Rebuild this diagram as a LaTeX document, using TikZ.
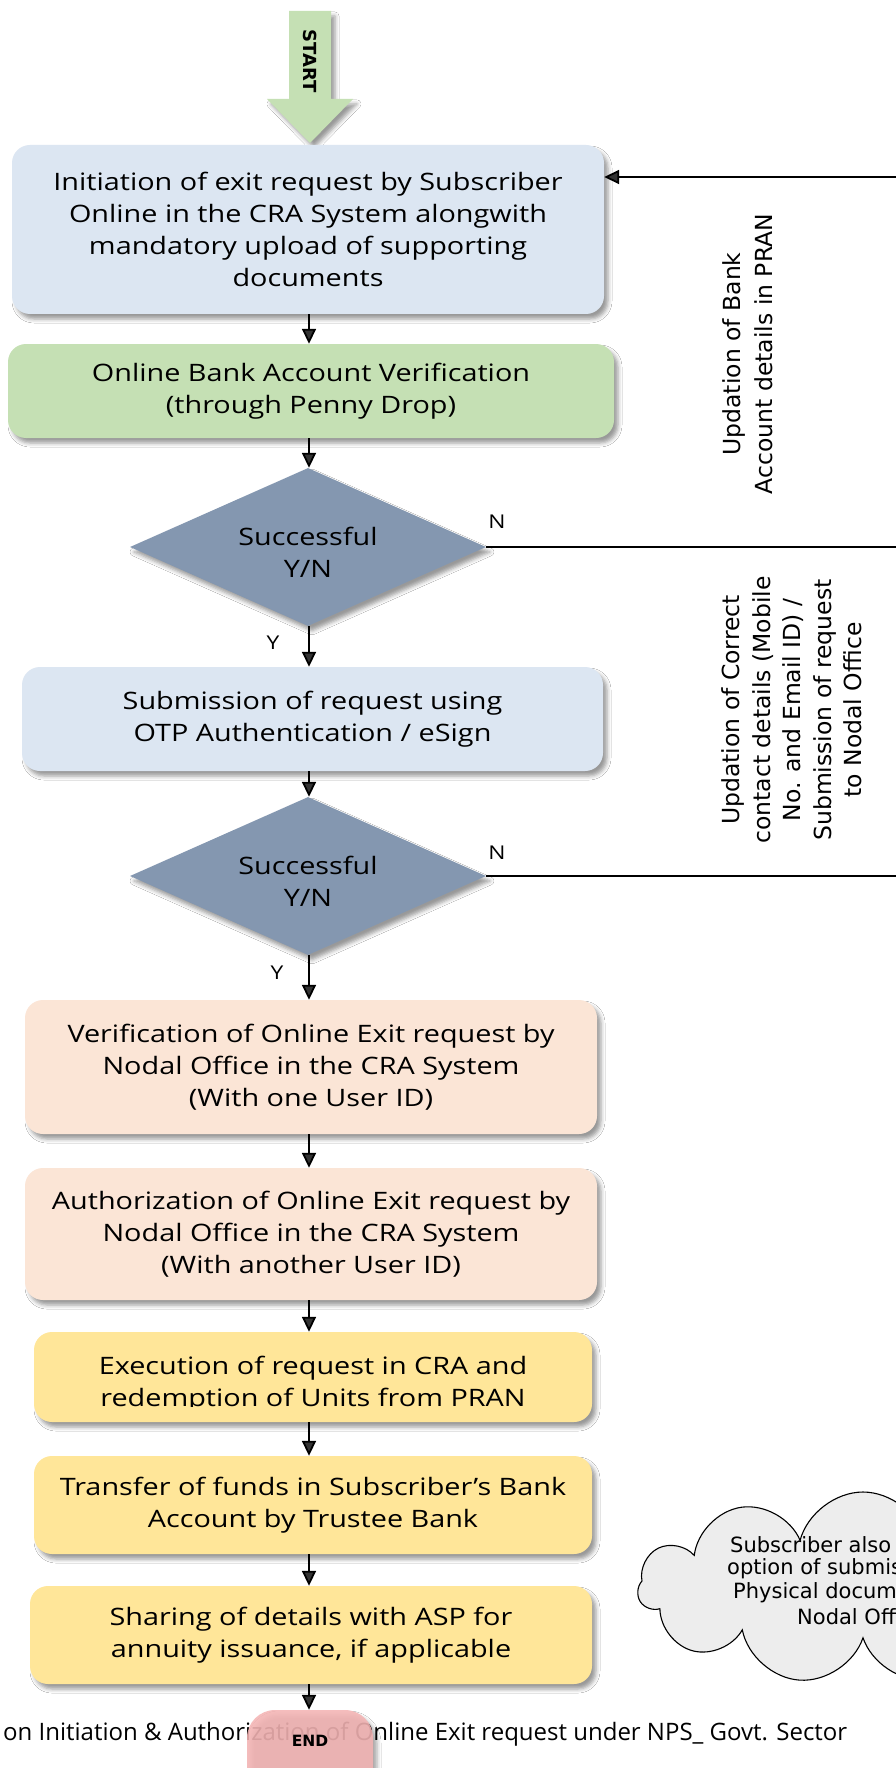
\documentclass[tikz,border=0pt]{standalone}
\usepackage{fontspec}
\newfontfamily\boxfont[FakeStretch=1.2]{Open Sans}
\newfontfamily\capfont{Open Sans}
\newfontfamily\vfont{DejaVu Sans}
\usetikzlibrary{shapes.geometric,shapes.symbols,arrows.meta,shadows.blur}
\definecolor{cBlue}{HTML}{DCE6F2}
\definecolor{cGreen}{HTML}{C5E0B4}
\definecolor{cDia}{HTML}{8497B0}
\definecolor{cPeach}{HTML}{FBE5D6}
\definecolor{cYellow}{HTML}{FFE699}
\definecolor{cPink}{HTML}{F4B4B4}
\definecolor{cCloud}{HTML}{EDEDED}
\begin{document}
\begin{tikzpicture}[x=1pt,y=-1pt,
  shad/.style={blur shadow={shadow xshift=4pt,shadow yshift=-5pt,shadow blur radius=4pt,shadow opacity=40}},
  boxtxt/.style={inner sep=0pt, align=center, font=\boxfont\fontsize{24}{32}\selectfont},
  box/.style={boxtxt, rounded corners=18pt, shad},
  dia/.style={diamond, aspect=2.25, inner sep=0pt, fill=cDia, shad,
    minimum width=356pt, minimum height=158pt},
  yn/.style={inner sep=0pt, font=\boxfont\fontsize{19}{22}\selectfont},
  side/.style={rotate=90, align=center, inner sep=0pt, font=\vfont\fontsize{23.5}{32}\selectfont},
  cloudtxt/.style={anchor=west, inner sep=0pt, font=\vfont\fontsize{21}{24}\selectfont},
  arr/.style={line width=1.8pt, -{Triangle[width=14pt,length=15pt]}},
  ln/.style={line width=1.8pt}
]
\clip (0,0) rectangle (896,1768);
\fill[white] (0,0) rectangle (896,1768);

% axis and right edge
\coordinate (ax) at (309,0);
\coordinate (edge) at (896,0);
\coordinate (fb) at (896,177);

% START arrow
\path[fill=cGreen, shad] (289,11) -- (331,11) -- (331,99) -- (353,99) -- (310,143)
  -- (267,99) -- (289,99) -- cycle;
\node[rotate=-90, inner sep=0pt, font=\vfont\bfseries\fontsize{18}{20}\selectfont] (start) at (310,61) {START};

% boxes
\node[box, fill=cBlue, minimum width=592pt, minimum height=169pt] (b1) at (308,229.5)
  {Initiation of exit request by Subscriber\\Online in the CRA System alongwith\\mandatory upload of supporting\\documents};
\node[box, fill=cGreen, minimum width=606pt, minimum height=94pt] (b2) at (311,391)
  {Online Bank Account Verification\\(through Penny Drop)};
\node[dia] (d1) at (308,547) {};
\node[boxtxt] (d1t) at (308,552) {Successful\\Y/N};
\node[box, fill=cBlue, minimum width=581pt, minimum height=104pt] (b3) at (312.5,719)
  {Submission of request using\\OTP Authentication / eSign};
\node[dia] (d2) at (308,876) {};
\node[boxtxt] (d2t) at (308,881) {Successful\\Y/N};
\node[box, fill=cPeach, minimum width=572pt, minimum height=134pt] (b4) at (311,1067)
  {Verification of Online Exit request by\\Nodal Office in the CRA System\\(With one User ID)};
\node[box, fill=cPeach, minimum width=572pt, minimum height=132pt] (b5) at (311,1234)
  {Authorization of Online Exit request by\\Nodal Office in the CRA System\\(With another User ID)};
\node[box, fill=cYellow, minimum width=558pt, minimum height=90pt] (b6) at (313,1377) {};
\begin{scope}
  \clip (0,1320) rectangle (896,1406);
  \node[boxtxt] (b6t) at (313,1384)
    {Execution of request in CRA and\\redemption of Units from PRAN};
\end{scope}
\node[box, fill=cYellow, minimum width=558pt, minimum height=98pt] (b7) at (313,1505)
  {Transfer of funds in Subscriber’s Bank\\Account by Trustee Bank};
\node[box, fill=cYellow, minimum width=562pt, minimum height=98pt] (b8) at (311,1635)
  {Sharing of details with ASP for\\annuity issuance, if applicable};

% caption text (under END)
\node[anchor=base west, inner sep=0pt, font=\capfont\fontsize{24}{28}\selectfont] (cap) at (3,1740)
  {on Initiation \& Authorization of Online Exit request under NPS\_ Govt. Sector};

% END
\node[rounded corners=28pt, fill=cPink, fill opacity=0.88, minimum width=126pt, minimum height=100pt,
  inner sep=0pt, shad] (endb) at (310,1760) {};
\node[inner sep=0pt, font=\vfont\bfseries\fontsize{15.5}{18}\selectfont] (endt) at (310,1741) {END};

% vertical arrows
\draw[arr] (b1.south -| ax) -- (b2.north -| ax);
\draw[arr] (b2.south -| ax) -- (d1.north -| ax);
\draw[arr] (d1.south -| ax) -- (b3.north -| ax);
\draw[arr] (b3.south -| ax) -- (d2.north -| ax);
\draw[arr] (d2.south -| ax) -- (b4.north -| ax);
\draw[arr] (b4.south -| ax) -- (b5.north -| ax);
\draw[arr] (b5.south -| ax) -- (b6.north -| ax);
\draw[arr] (b6.south -| ax) -- (b7.north -| ax);
\draw[arr] (b7.south -| ax) -- (b8.north -| ax);
\draw[arr] (b8.south -| ax) -- (endb.north -| ax);

% Y / N labels
\node[yn] (y1) at (273,643) {Y};
\node[yn] (y2) at (277,973) {Y};
\node[yn] (n1) at (497,522) {N};
\node[yn] (n2) at (497,853) {N};

% feedback lines
\draw[ln] (d1.east) -- (d1.east -| edge);
\draw[ln] (d2.east) -- (d2.east -| edge);
\draw[arr] (fb) -- (fb -| b1.east);

% side labels
\node[side] (lab1) at (748,354) {Updation of Bank\\Account details in PRAN};
\node[side, font=\vfont\fontsize{23.5}{30.5}\selectfont] (lab2) at (792,710)
  {Updation of Correct\\contact details (Mobile\\No. and Email ID) /\\Submission of request\\to Nodal Office};

% cloud
\node[cloud, cloud puffs=11, cloud ignores aspect, draw=black, line width=1.1pt, fill=cCloud,
  minimum width=450pt, minimum height=192pt, inner sep=0pt] (cl) at (863,1588) {};
\node[cloudtxt] (c1) at (730,1545) {Subscriber also};
\node[cloudtxt] (c2) at (727,1569) {option of submis};
\node[cloudtxt] (c3) at (733,1593) {Physical docum};
\node[cloudtxt] (c4) at (797,1617) {Nodal Offic};
\end{tikzpicture}
\end{document}
